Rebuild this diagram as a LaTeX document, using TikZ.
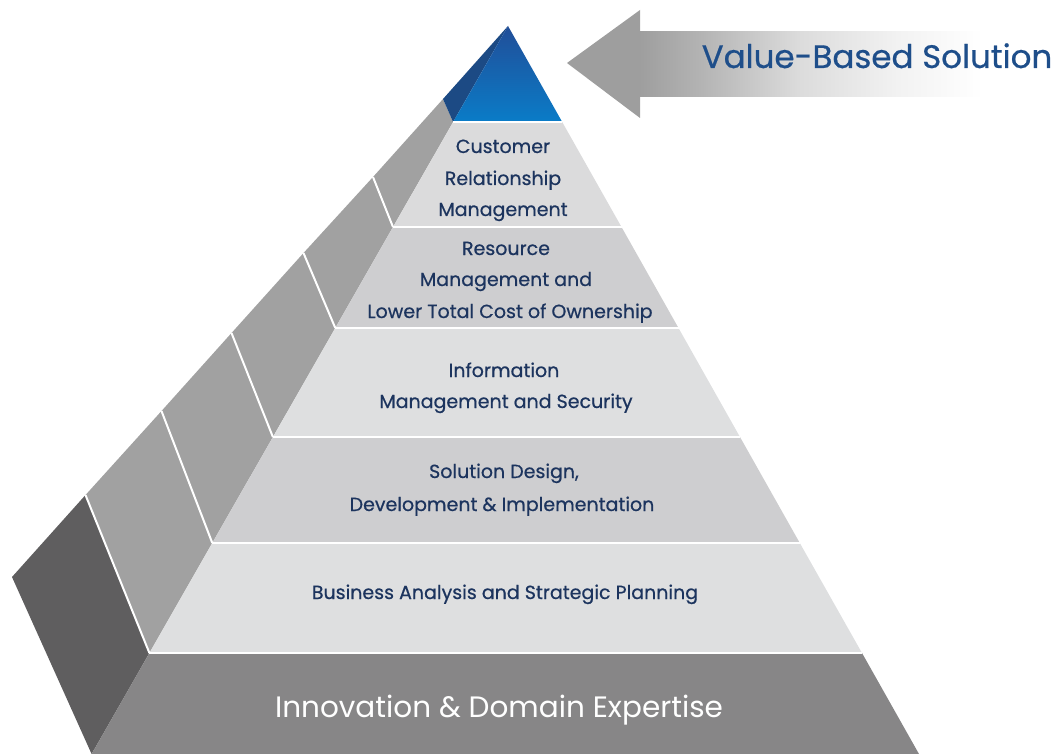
\documentclass[tikz,border=0pt]{standalone}
\usepackage{fontspec}
\newfontfamily\pop{Poppins}
\newfontfamily\popm{Poppins}[FakeBold=0.6]
\definecolor{navy}{RGB}{28,52,94}
\definecolor{vblue}{RGB}{30,78,138}
\definecolor{sidegray}{RGB}{161,161,161}
\definecolor{sidedark}{RGB}{95,94,95}
\definecolor{bandA}{RGB}{219,219,220}
\definecolor{bandB}{RGB}{206,206,208}
\definecolor{bandC}{RGB}{222,223,224}
\definecolor{basegray}{RGB}{135,134,135}
\definecolor{tipside}{RGB}{28,74,132}
\definecolor{tiptop}{RGB}{33,78,152}
\definecolor{tipbot}{RGB}{10,124,200}
\definecolor{headgray}{RGB}{158,158,158}
\pgfdeclarehorizontalshading{arrowfade}{100bp}{
  rgb(0bp)=(0.62,0.62,0.62);
  rgb(25bp)=(0.62,0.62,0.62);
  rgb(32bp)=(0.70,0.70,0.70);
  rgb(44bp)=(0.86,0.86,0.86);
  rgb(56bp)=(0.95,0.95,0.95);
  rgb(66bp)=(1,1,1);
  rgb(100bp)=(1,1,1)}
\begin{document}
\begin{tikzpicture}[x=1pt,y=-1pt,
  lbl/.style={font=\popm\fontsize{19}{19}\selectfont, text=navy, inner sep=0pt, anchor=base},
  baselbl/.style={font=\pop\fontsize{29.5}{29.5}\selectfont, text=white, inner sep=0pt, anchor=base},
  titlelbl/.style={font=\popm\fontsize{32.5}{32.5}\selectfont, text=vblue, inner sep=0pt, anchor=base},
  gap/.style={draw=white, line width=2.5pt},
  sgap/.style={draw=white, line width=2pt}]
\useasboundingbox (0,0) rectangle (1058,754);
% apex and edges
\coordinate (A) at (508,26);
\coordinate (F0) at (453.1,122);
\coordinate (F1) at (393,227);
\coordinate (F2) at (335.3,328);
\coordinate (F3) at (272.9,437);
\coordinate (F4) at (212.3,543);
\coordinate (F5) at (149.4,653);
\coordinate (F6) at (91.6,754);
\coordinate (O0) at (443,99);
\coordinate (O1) at (373,177);
\coordinate (O2) at (303.5,253);
\coordinate (O3) at (231.5,333);
\coordinate (O4) at (161.5,411);
\coordinate (O5) at (85.5,495);
\coordinate (O6) at (12,577);
\coordinate (R0) at (562.2,122);
\coordinate (R1) at (621.5,227);
\coordinate (R2) at (678.5,328);
\coordinate (R3) at (740,437);
\coordinate (R4) at (799.8,543);
\coordinate (R5) at (862,653);
\coordinate (R6) at (919,754);
% side strips
\fill[sidegray] (F0) -- (O0) -- (O1) -- (F1) -- cycle;
\fill[sidegray] (F1) -- (O1) -- (O2) -- (F2) -- cycle;
\fill[sidegray] (F2) -- (O2) -- (O3) -- (F3) -- cycle;
\fill[sidegray] (F3) -- (O3) -- (O4) -- (F4) -- cycle;
\fill[sidegray] (F4) -- (O4) -- (O5) -- (F5) -- cycle;
\fill[sidedark] (F5) -- (O5) -- (O6) -- (F6) -- cycle;
% front bands
\fill[bandA] (F0) -- (R0) -- (R1) -- (F1) -- cycle;
\fill[bandB] (F1) -- (R1) -- (R2) -- (F2) -- cycle;
\fill[bandC] (F2) -- (R2) -- (R3) -- (F3) -- cycle;
\fill[bandB] (F3) -- (R3) -- (R4) -- (F4) -- cycle;
\fill[bandC] (F4) -- (R4) -- (R5) -- (F5) -- cycle;
\fill[basegray] (F5) -- (R5) -- (R6) -- (F6) -- cycle;
% blue tip
\fill[tipside] (A) -- (O0) -- (F0) -- cycle;
\shade[top color=tiptop, bottom color=tipbot] (A) -- (F0) -- (R0) -- cycle;
% white separators
\foreach \i in {0,...,5} { \draw[gap] (F\i) -- (R\i); }
\foreach \i in {1,...,5} { \draw[sgap] (F\i) -- (O\i); }
% arrow
\fill[headgray] (567,63) -- (640,10) -- (640,118) -- cycle;
\shade[shading=arrowfade] (639.5,32) rectangle (1058,97);
\node[titlelbl] (title) at (877,68) {Value-Based Solution};
% labels
\node[lbl] (c1) at (503,153) {Customer};
\node[lbl] (c2) at (503,185) {Relationship};
\node[lbl] (c3) at (503,216) {Management};
\node[lbl] (r1) at (506,255) {Resource};
\node[lbl] (r2) at (506,286) {Management and};
\node[lbl] (r3) at (510,318) {Lower Total Cost of Ownership};
\node[lbl] (i1) at (504,377) {Information};
\node[lbl] (i2) at (506,408) {Management and Security};
\node[lbl] (s1) at (504,478) {Solution Design,};
\node[lbl] (s2) at (502,511) {Development \& Implementation};
\node[lbl] (b1) at (505,599) {Business Analysis and Strategic Planning};
\node[baselbl] (base) at (499,717) {Innovation \& Domain Expertise};
\end{tikzpicture}
\end{document}
